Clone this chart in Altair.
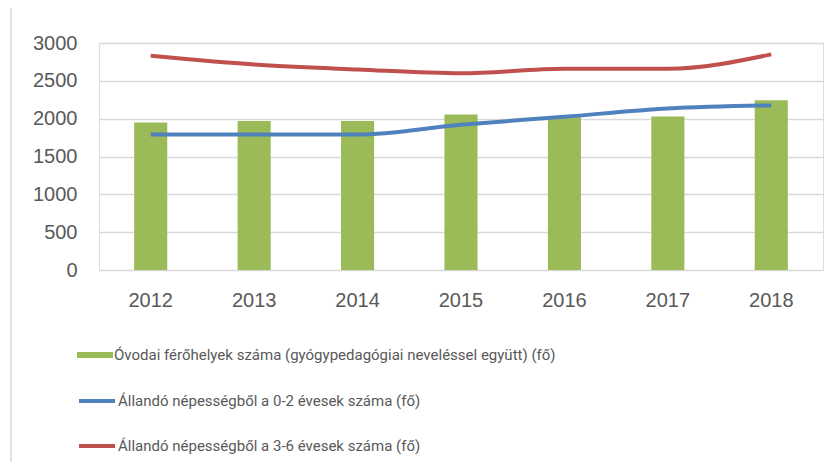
import altair as alt
import pandas as pd

years = ["2012", "2013", "2014", "2015", "2016", "2017", "2018"]
places = [1950, 1970, 1970, 2055, 2020, 2030, 2245]
kids_0_2 = [1790, 1790, 1790, 1920, 2025, 2135, 2175]
kids_3_6 = [2830, 2715, 2650, 2600, 2660, 2660, 2850]

bar_name = "Óvodai férőhelyek száma  (gyógypedagógiai neveléssel együtt) (fő)"
blue_name = "Állandó népességből a 0-2 évesek száma (fő)"
red_name = "Állandó népességből a 3-6 évesek száma (fő)"

bars_df = pd.DataFrame({"year": years, "value": places, "series": bar_name})
lines_df = pd.concat([
    pd.DataFrame({"year": years, "value": kids_0_2, "series": blue_name}),
    pd.DataFrame({"year": years, "value": kids_3_6, "series": red_name}),
])

GREEN, BLUE, RED = "#9BBB59", "#4F81BD", "#C0504D"
TXT = "#595959"
LEG_FONT = "Roboto"
LEG_SIZE = 15

x = alt.X("year:O", title=None,
          scale=alt.Scale(paddingInner=0.68, paddingOuter=0.34),
          axis=alt.Axis(labelAngle=0, labelFont="Liberation Sans", labelFontSize=20,
                        labelColor=TXT, labelPadding=20, domain=False, ticks=False,
                        grid=False))
y = alt.Y("value:Q", title=None,
          scale=alt.Scale(domain=[0, 3000], nice=False),
          axis=alt.Axis(values=[0, 500, 1000, 1500, 2000, 2500, 3000], format="d",
                        labelFont="Liberation Sans", labelFontSize=20, labelColor=TXT,
                        labelPadding=22, domain=False, ticks=False,
                        grid=True, gridColor="#D9D9D9", gridWidth=1.5))

bars = alt.Chart(bars_df).mark_bar().encode(
    x=x, y=y,
    fill=alt.Fill("series:N", scale=alt.Scale(domain=[bar_name], range=[GREEN]),
                  legend=alt.Legend(title=None, orient="none", legendX=-22, legendY=294,
                                    symbolType="M-1,-0.16L1,-0.16L1,0.16L-1,0.16Z",
                                    symbolSize=1296, symbolStrokeWidth=0,
                                    labelFont=LEG_FONT, labelFontSize=LEG_SIZE,
                                    labelColor=TXT, labelOffset=1, padding=0,
                                    labelLimit=700)),
)

lines = alt.Chart(lines_df).mark_line(strokeWidth=4, interpolate="monotone").encode(
    x=x, y=y,
    stroke=alt.Stroke("series:N",
                      scale=alt.Scale(domain=[blue_name, red_name], range=[BLUE, RED]),
                      legend=alt.Legend(title=None, orient="none", legendX=-22, legendY=338,
                                        symbolType="stroke", symbolSize=1296,
                                        symbolStrokeWidth=4, rowPadding=17,
                                        labelFont=LEG_FONT, labelFontSize=LEG_SIZE,
                                        labelColor=TXT, labelOffset=1, padding=0,
                                        labelLimit=700)),
)

border = alt.Chart(pd.DataFrame({"a": [0]})).mark_rule(color="#D9D9D9", strokeWidth=1.5).encode(
    x=alt.value(-88), y=alt.value(-43), y2=alt.value(430)
)

chart = alt.layer(border, bars, lines).resolve_scale(
    fill="independent", stroke="independent"
).properties(
    width=724, height=227,
    padding={"left": 91, "top": 35, "right": 6, "bottom": 192},
    autosize=alt.AutoSizeParams(type="none"),
).configure_view(stroke=None).configure(background="white")

chart.save("out.html", embed_options={"renderer": "svg", "actions": False})
